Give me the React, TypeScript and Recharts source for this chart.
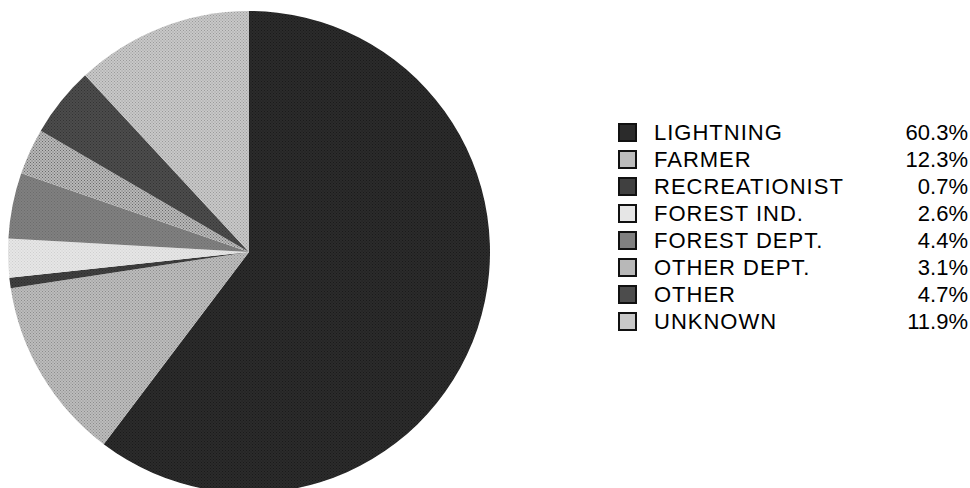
import React from "react";
import { Cell, Pie, PieChart } from "recharts";

const causes = ["LIGHTNING", "FARMER", "RECREATIONIST", "FOREST IND.", "FOREST DEPT.", "OTHER DEPT.", "OTHER", "UNKNOWN"];
const shares = [60.3, 12.3, 0.7, 2.6, 4.4, 3.1, 4.7, 11.9];
const shareLabels = ["60.3%", "12.3%", "0.7%", "2.6%", "4.4%", "3.1%", "4.7%", "11.9%"];

// base colour + dot colour for the dithered fills
const fills = [
  ["#2b2b2b", "#1a1a1a"],
  ["#bcbcbc", "#8c8c8c"],
  ["#404040", "#2a2a2a"],
  ["#e6e6e6", "#cfcfcf"],
  ["#808080", "#6c6c6c"],
  ["#b8b8b8", "#6a6a6a"],
  ["#4c4c4c", "#333333"],
  ["#c8c8c8", "#9a9a9a"]
];

const data = causes.map((name, i) => ({ name, value: shares[i] }));

export default function App() {
  return (
    <div style={{ position: "absolute", left: 0, top: 0, width: 970, height: 488, background: "#fff", fontFamily: "Arial, 'Liberation Sans', sans-serif" }}>
      <PieChart width={600} height={488} style={{ position: "absolute", left: 0, top: 0 }}>
        <defs>
          {fills.map(([base, dot], i) => (
            <pattern key={i} id={`pat${i}`} width={3} height={3} patternUnits="userSpaceOnUse">
              <rect width={3} height={3} fill={base} />
              <rect width={1} height={1} fill={dot} />
              <rect x={1.5} y={1.5} width={1} height={1} fill={dot} />
            </pattern>
          ))}
        </defs>
        <Pie
          data={data}
          dataKey="value"
          nameKey="name"
          cx={244}
          cy={247}
          outerRadius={241}
          startAngle={90}
          endAngle={-270}
          stroke="none"
          isAnimationActive={false}
        >
          {data.map((d, i) => (
            <Cell key={d.name} fill={`url(#pat${i})`} />
          ))}
        </Pie>
      </PieChart>
      <div style={{ position: "absolute", left: 618, top: 119 }}>
        {data.map((d, i) => (
          <div key={d.name} style={{ position: "relative", height: 27, width: 350, fontSize: 22, lineHeight: "27px", color: "#000" }}>
            <div
              style={{
                position: "absolute",
                left: 0,
                top: 4,
                width: 15,
                height: 15,
                border: "2px solid #111",
                background: fills[i][0]
              }}
            />
            <span style={{ position: "absolute", left: 36, top: 0, letterSpacing: 1 }}>{d.name}</span>
            <span style={{ position: "absolute", right: 0, top: 0 }}>{shareLabels[i]}</span>
          </div>
        ))}
      </div>
    </div>
  );
}
